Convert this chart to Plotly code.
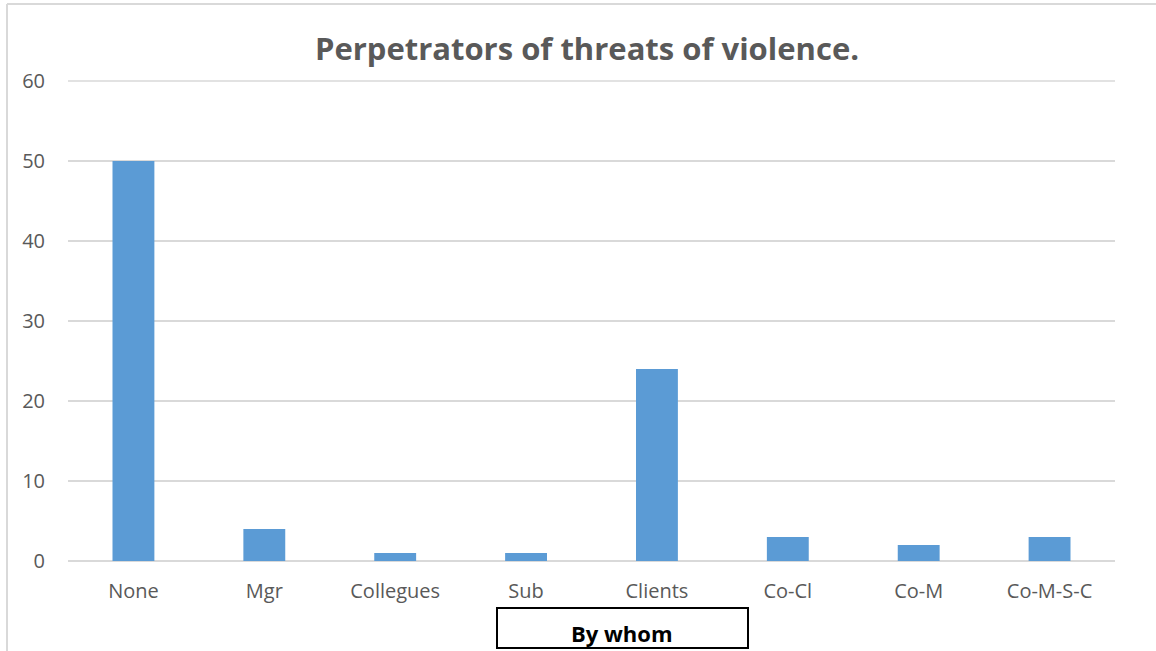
import plotly.graph_objects as go

categories = ["None", "Mgr", "Collegues", "Sub", "Clients", "Co-Cl", "Co-M", "Co-M-S-C"]
counts = [50, 4, 1, 1, 24, 3, 2, 3]
y_ticks = [0, 10, 20, 30, 40, 50, 60]

W, H = 1156, 651
L, R, T, B = 68, 41, 81, 90
pw, ph = W - L - R, H - T - B


def px_x(x):
    return (x - L) / pw


def px_y(y):
    return (H - B - y) / ph


fig = go.Figure(
    go.Bar(
        x=categories,
        y=counts,
        marker=dict(color="#5B9BD5", line=dict(width=0)),
        width=0.32,
    )
)

font_family = "Open Sans, Noto Sans, sans-serif"

fig.update_layout(
    width=W,
    height=H,
    margin=dict(l=L, r=R, t=T, b=B),
    paper_bgcolor="white",
    plot_bgcolor="white",
    showlegend=False,
    title=dict(
        text="<b>Perpetrators of threats of violence.</b>",
        font=dict(family=font_family, size=31, color="#595959"),
        x=px_x(587),
        xref="paper",
        xanchor="center",
        y=1 - 49 / H,
        yref="container",
        yanchor="middle",
    ),
    xaxis=dict(
        tickfont=dict(family=font_family, size=20, color="#595959"),
        showgrid=False,
        showline=False,
        ticks="",
        ticklabelstandoff=16,
    ),
    yaxis=dict(
        range=[0, max(y_ticks)],
        tickvals=y_ticks,
        tickfont=dict(family=font_family, size=20, color="#595959"),
        showgrid=True,
        gridcolor="#D9D9D9",
        gridwidth=1.5,
        zeroline=True,
        zerolinecolor="#D9D9D9",
        zerolinewidth=2,
        showline=False,
        ticks="",
        ticklabelstandoff=22,
    ),
    shapes=[
        # top gridline along the upper edge of the plot area (value 60)
        dict(type="line", xref="paper", yref="paper",
             x0=0, x1=1, y0=1, y1=1,
             line=dict(color="#D9D9D9", width=1.5), layer="below"),
        # outer chart border (top and left edges)
        dict(type="line", xref="paper", yref="paper",
             x0=px_x(7), x1=px_x(1160), y0=px_y(4), y1=px_y(4),
             line=dict(color="#D9D9D9", width=2)),
        dict(type="line", xref="paper", yref="paper",
             x0=px_x(7), x1=px_x(7), y0=px_y(4), y1=px_y(655),
             line=dict(color="#D9D9D9", width=2)),
        # axis title box
        dict(type="rect", xref="paper", yref="paper",
             x0=px_x(497), x1=px_x(748), y0=px_y(608), y1=px_y(648),
             line=dict(color="black", width=2), fillcolor="rgba(0,0,0,0)"),
    ],
    annotations=[
        dict(text="<b>By whom</b>", xref="paper", yref="paper",
             x=px_x(622), y=px_y(633), xanchor="center", yanchor="middle",
             showarrow=False,
             font=dict(family=font_family, size=22, color="black")),
    ],
)

fig.write_html("out.html")
